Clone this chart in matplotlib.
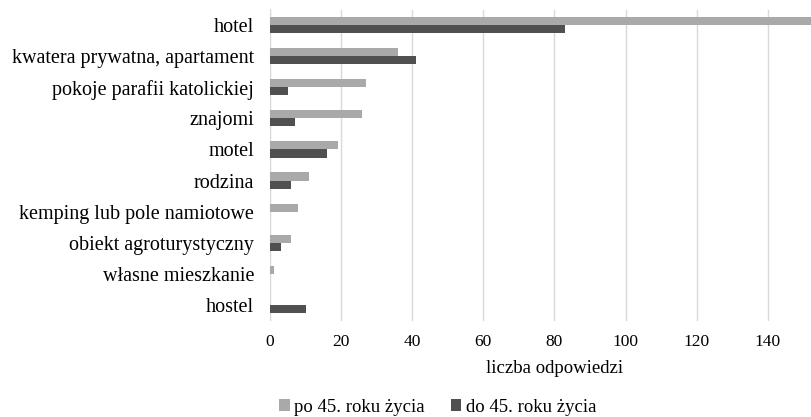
import matplotlib.pyplot as plt
import numpy as np

plt.rcParams['font.family'] = ['Liberation Serif', 'DejaVu Serif']

categories = ['hotel', 'kwatera prywatna, apartament', 'pokoje parafii katolickiej',
              'znajomi', 'motel', 'rodzina', 'kemping lub pole namiotowe',
              'obiekt agroturystyczny', 'własne mieszkanie', 'hostel']
po45 = [152, 36, 27, 26, 19, 11, 8, 6, 1, 0]
do45 = [83, 41, 5, 7, 16, 6, 0, 3, 0, 10]
xticks = [0, 20, 40, 60, 80, 100, 120, 140]

light = '#a9a9a9'
dark = '#505050'

fig = plt.figure(figsize=(8.12, 4.17), dpi=100)
# plot area runs past the right edge (picture is cropped there)
ax = fig.add_axes([270 / 812, 1 - 320.5 / 417, (839 - 270) / 812, 311 / 417])

y = np.arange(len(categories))
h = 0.26
ax.barh(y - h / 2, po45, height=h, color=light, label='po 45. roku życia', zorder=3)
ax.barh(y + h / 2, do45, height=h, color=dark, label='do 45. roku życia', zorder=3)

ax.set_ylim(len(categories) - 0.5, -0.5)
ax.set_yticks(y)
ax.set_yticklabels(categories, fontsize=14.5)
ax.set_xlim(0, 160)
ax.set_xticks(xticks)
ax.tick_params(axis='x', labelsize=12.5, length=0, pad=10)
ax.tick_params(axis='y', length=0, pad=11.5)
ax.grid(axis='x', color='#d9d9d9', linewidth=1, zorder=0)
for s in ['top', 'right', 'bottom']:
    ax.spines[s].set_visible(False)
ax.spines['left'].set_color('#d9d9d9')
ax.set_xlabel('liczba odpowiedzi', fontsize=13.5, labelpad=7)

fig.legend(loc='center', bbox_to_anchor=(438 / 812, 1 - 407 / 417), ncol=2,
           frameon=False, fontsize=13.5, handlelength=0.55, handleheight=0.55,
           handletextpad=0.25, columnspacing=1.4)

fig.savefig('out.png', dpi=100)
